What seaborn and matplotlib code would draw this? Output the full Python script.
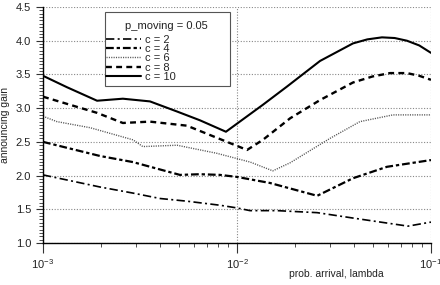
import numpy as np
import matplotlib
matplotlib.use("Agg")
import matplotlib.pyplot as plt
from matplotlib.ticker import MultipleLocator, LogLocator
from matplotlib.patches import Rectangle
import seaborn as sns

# datos (lambda, ganancia)
lam_c2 = [0.001, 0.00197, 0.00291, 0.00401, 0.00552, 0.00817, 0.01, 0.01167, 0.0161, 0.0259, 0.0396, 0.0761, 0.1]
gain_c2 = [2.01, 1.83, 1.74, 1.66, 1.62, 1.56, 1.52, 1.48, 1.48, 1.45, 1.37, 1.25, 1.31]

lam_c4 = [0.001, 0.00197, 0.00291, 0.00508, 0.00644, 0.00817, 0.01, 0.0148, 0.0259, 0.0396, 0.0593, 0.1]
gain_c4 = [2.50, 2.29, 2.20, 2.01, 2.02, 2.01, 1.98, 1.89, 1.70, 1.96, 2.13, 2.23]

lam_c6 = [0.001, 0.00118, 0.00175, 0.00291, 0.00327, 0.00491, 0.00788, 0.0117, 0.0153, 0.0188, 0.0301, 0.043, 0.0637, 0.1]
gain_c6 = [2.88, 2.80, 2.71, 2.53, 2.43, 2.45, 2.33, 2.20, 2.07, 2.19, 2.55, 2.80, 2.90, 2.90]

lam_c8 = [0.001, 0.0019, 0.00258, 0.00356, 0.00552, 0.00788, 0.01127, 0.0136, 0.0188, 0.0268, 0.0396, 0.05, 0.0615, 0.0752, 0.087, 0.1]
gain_c8 = [3.17, 2.93, 2.78, 2.80, 2.74, 2.56, 2.38, 2.53, 2.85, 3.12, 3.38, 3.47, 3.52, 3.52, 3.48, 3.42]

lam_c10 = [0.001, 0.00133, 0.0019, 0.00258, 0.00356, 0.00491, 0.00644, 0.00877, 0.0136, 0.0181, 0.0268, 0.0396, 0.047, 0.0559, 0.065, 0.0752, 0.087, 0.1]
gain_c10 = [3.48, 3.31, 3.11, 3.14, 3.10, 2.95, 2.82, 2.65, 3.05, 3.32, 3.70, 3.96, 4.02, 4.05, 4.04, 4.00, 3.93, 3.82]

series_labels = ["c = 2", "c = 4", "c = 6", "c = 8", "c = 10"]
legend_title = "p_moving = 0.05"

sns.set_style("white")
plt.rcParams['font.family'] = ['Liberation Sans', 'DejaVu Sans']
plt.rcParams['mathtext.fontset'] = 'custom'
plt.rcParams['mathtext.rm'] = 'Liberation Sans'

fig = plt.figure(figsize=(4.4, 2.85), dpi=100)
ax = fig.add_axes([0.0977, 0.1474, 0.8818, 0.828])

# estilos de linea
estilos = [
    dict(linestyle=(0, (5, 2, 1.2, 2)), linewidth=1.2),
    dict(linestyle=(0, (3.5, 1.3, 1.5, 1.3)), linewidth=1.6),
    dict(linestyle=(0, (0.8, 0.9)), linewidth=1.0, color='#555555'),
    dict(linestyle=(0, (2.5, 1.8)), linewidth=1.7),
    dict(linestyle='-', linewidth=1.5),
]
datos = [(lam_c2, gain_c2), (lam_c4, gain_c4), (lam_c6, gain_c6), (lam_c8, gain_c8), (lam_c10, gain_c10)]

for (x, y), lab, est in zip(datos, series_labels, estilos):
    kw = dict(color='black')
    kw.update(est)
    sns.lineplot(x=x, y=y, ax=ax, label=lab, sort=False, **kw)

ax.set_xscale('log')
ax.set_xlim(0.001, 0.1)
ax.set_ylim(1.0, 4.5)
ax.yaxis.set_major_locator(MultipleLocator(0.5))
ax.yaxis.set_minor_locator(MultipleLocator(0.05))
ax.xaxis.set_major_locator(LogLocator(base=10))
ax.xaxis.set_minor_locator(LogLocator(base=10, subs=np.arange(2, 10)))
ax.yaxis.set_major_formatter(matplotlib.ticker.FormatStrFormatter('%.1f'))

ax.grid(True, which='major', color='#888888', linestyle=(0, (1, 1.5)), linewidth=0.8)
ax.set_axisbelow(True)
for s in ['top', 'right']:
    ax.spines[s].set_visible(False)
for s in ['left', 'bottom']:
    ax.spines[s].set_color('black')
    ax.spines[s].set_linewidth(1.0)

ax.tick_params(axis='both', which='major', direction='out', length=5, width=0.8,
               color='#333333', labelsize=8, labelcolor='#222222', left=True, bottom=True)
ax.tick_params(axis='both', which='minor', direction='out', length=3, width=0.6,
               color='#333333', left=True, bottom=True)
ax.tick_params(axis='x', which='major', length=7, pad=3)

ax.set_xlabel('prob. arrival, lambda', fontsize=7.5, color='#222222')
ax.set_ylabel('announcing gain', fontsize=7.5, color='#222222')
ax.xaxis.set_label_coords(0.755, -0.11)
ax.yaxis.set_label_coords(-0.085, 0.5)

# recuadro de la leyenda (mas ancho que su contenido, como en el original)
caja = Rectangle((0.160, 0.665), 0.322, 0.3125, transform=ax.transAxes,
                 facecolor='white', edgecolor='#555555', linewidth=0.8, zorder=4)
ax.add_patch(caja)
ax.text(0.317, 0.921, legend_title, transform=ax.transAxes, ha='center', va='center',
        fontsize=8, color='#222222', zorder=6)

leg = ax.legend(loc='upper left', bbox_to_anchor=(0.163, 0.882),
                fontsize=8, frameon=False,
                handlelength=3.1, handletextpad=0.4, labelspacing=-0.07, borderpad=0.0,
                borderaxespad=0.0)
leg.set_zorder(7)

fig.savefig('out.png', dpi=100)
